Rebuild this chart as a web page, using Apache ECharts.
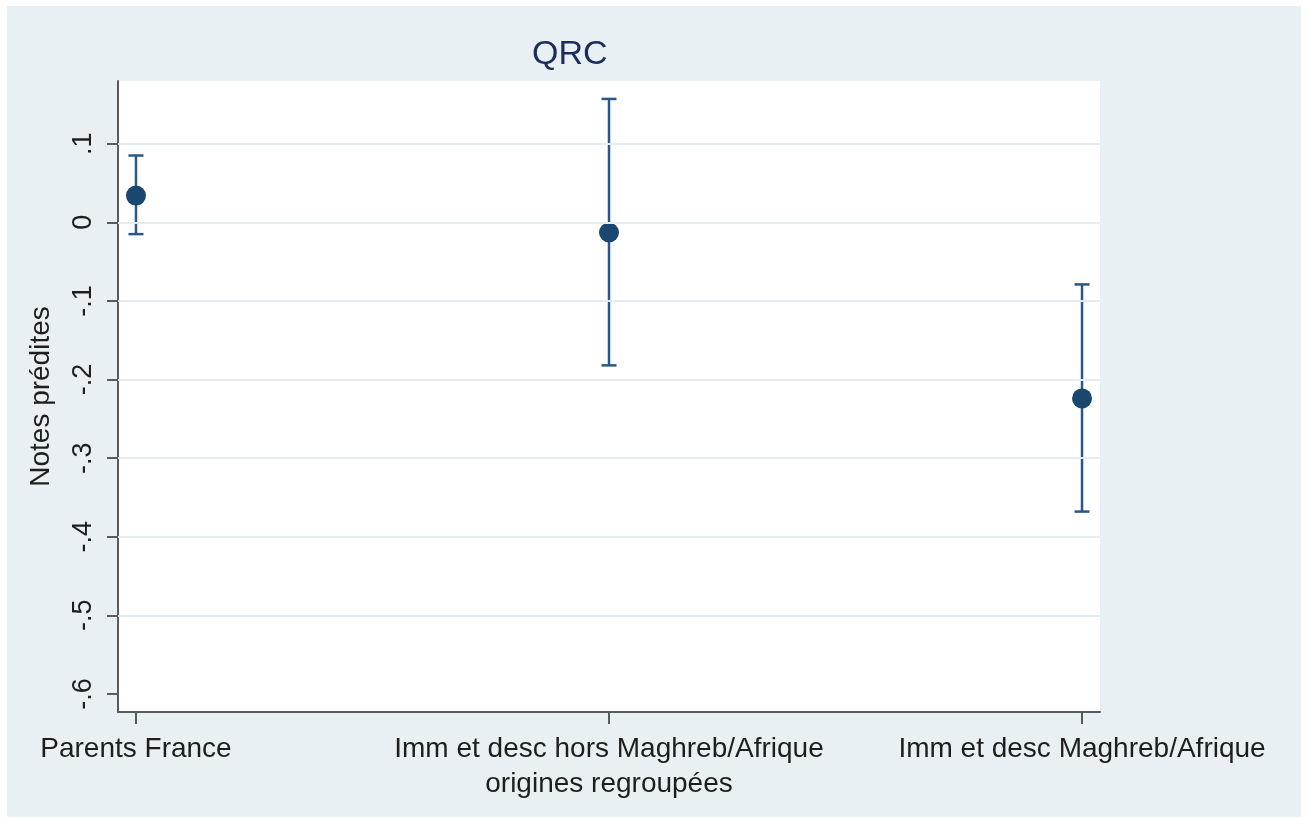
<!DOCTYPE html>
<html>
<head>
<meta charset="utf-8">
<script src="https://cdn.jsdelivr.net/npm/echarts@6/dist/echarts.min.js"></script>
<style>
html,body{margin:0;padding:0;background:#fff;}
#chart{width:1308px;height:818px;}
</style>
</head>
<body>
<div id="chart"></div>
<script>
// ---- data ----
const categories = [
  'Parents France',
  'Imm et desc hors Maghreb/Afrique\norigines regroupées',
  'Imm et desc Maghreb/Afrique'
];
const estimates = [0.034, -0.013, -0.224];
const lowerCI   = [-0.015, -0.182, -0.368];
const upperCI   = [0.085, 0.157, -0.079];
const yTicks    = [0.1, 0, -0.1, -0.2, -0.3, -0.4, -0.5, -0.6];
const gridTicks = [0.1, 0, -0.1, -0.2, -0.3, -0.4, -0.5];
const xTicks    = [1, 2, 3];
const titleText = 'QRC';
const yAxisTitle = 'Notes prédites';

function fmtTick(v) {
  if (Math.abs(v) < 1e-9) return '0';
  const s = String(Math.round(v * 10) / 10);
  return s.replace('0.', '.');
}

const chart = echarts.init(document.getElementById('chart'), null, {renderer: 'canvas'});
const FONT = '"Liberation Sans", Arial, sans-serif';
const markerColor = '#1a476f';
const barColor = '#285886';

const option = {
  animation: false,
  backgroundColor: '#ffffff',
  graphic: [{
    type: 'rect', z: -10, silent: true,
    shape: {x: 7, y: 6, width: 1294, height: 811},
    style: {fill: '#e9f0f3'}
  }],
  title: {
    text: titleText,
    left: 527, top: 33,
    textStyle: {fontFamily: FONT, fontSize: 34, fontWeight: 'normal', color: '#1c2d5c'}
  },
  grid: {
    left: 118, right: 208, top: 81, bottom: 106,
    containLabel: false, outerBoundsMode: 'none',
    show: true, backgroundColor: '#ffffff', borderWidth: 0
  },
  xAxis: {
    type: 'value',
    min: 0.962, max: 3.038,
    axisLine: {show: true, onZero: false, lineStyle: {color: '#5a5a5a', width: 2}},
    axisTick: {show: true, customValues: xTicks, length: 12, lineStyle: {color: '#5a5a5a', width: 2}},
    axisLabel: {
      show: true, customValues: xTicks, margin: 20,
      fontFamily: FONT, fontSize: 28, color: '#1e1e1e', lineHeight: 35,
      formatter: function (v) { return categories[Math.round(v) - 1] || ''; }
    },
    splitLine: {show: false}
  },
  yAxis: {
    type: 'value',
    min: -0.623, max: 0.1798,
    name: yAxisTitle, nameLocation: 'middle', nameGap: 63,
    nameTextStyle: {fontFamily: FONT, fontSize: 28, color: '#1e1e1e'},
    axisLine: {show: true, onZero: false, lineStyle: {color: '#5a5a5a', width: 2}},
    axisTick: {show: true, customValues: yTicks, length: 11, lineStyle: {color: '#5a5a5a', width: 2}},
    axisLabel: {
      show: true, customValues: yTicks, rotate: 90, margin: 21,
      fontFamily: FONT, fontSize: 27, color: '#1e1e1e',
      formatter: fmtTick
    },
    splitLine: {show: false}
  },
  series: [
    {
      type: 'scatter', z: 1, silent: true, symbolSize: 0,
      data: estimates.map((v, i) => [xTicks[i], v]),
      markLine: {
        silent: true, symbol: 'none', animation: false,
        label: {show: false},
        lineStyle: {color: '#e3edf0', width: 2, type: 'solid'},
        data: gridTicks.map(v => ({yAxis: v}))
      }
    },
    {
      type: 'custom', z: 2, silent: true,
      data: xTicks.map((x, i) => [x, lowerCI[i], upperCI[i]]),
      renderItem: function (params, api) {
        const x = api.value(0);
        const lo = api.coord([x, api.value(1)]);
        const hi = api.coord([x, api.value(2)]);
        const cw = 7.5;
        const st = {stroke: barColor, lineWidth: 2.5};
        return {
          type: 'group',
          children: [
            {type: 'line', shape: {x1: lo[0], y1: lo[1], x2: hi[0], y2: hi[1]}, style: st},
            {type: 'line', shape: {x1: lo[0] - cw, y1: lo[1], x2: lo[0] + cw, y2: lo[1]}, style: st},
            {type: 'line', shape: {x1: hi[0] - cw, y1: hi[1], x2: hi[0] + cw, y2: hi[1]}, style: st}
          ]
        };
      }
    },
    {
      type: 'scatter', z: 3, silent: true,
      symbol: 'circle', symbolSize: 20,
      itemStyle: {color: markerColor, opacity: 1},
      data: estimates.map((v, i) => [xTicks[i], v])
    }
  ]
};
chart.setOption(option);
</script>
</body>
</html>
